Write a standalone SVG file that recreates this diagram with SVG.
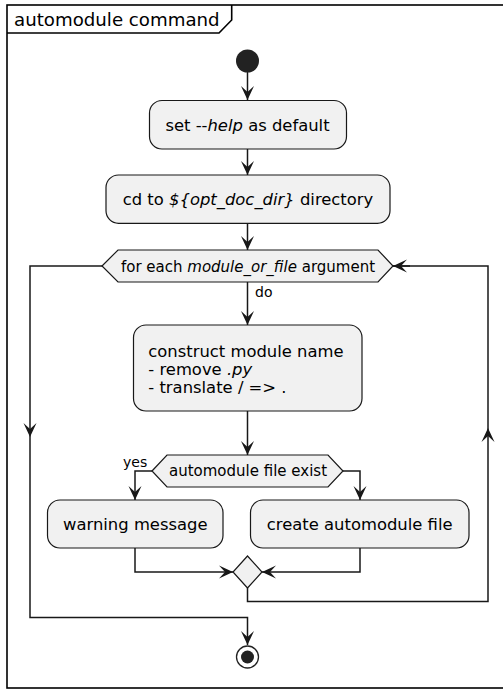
<svg xmlns="http://www.w3.org/2000/svg" width="503" height="689" viewBox="0 0 503 689">
  <style>
    text { font-family: "DejaVu Sans", "Noto Sans", sans-serif; fill: #000000; }
    .title { font-size: 18.2px; }
    .act { font-size: 16.4px; }
    .cond { font-size: 15px; }
    .lbl { font-size: 14px; }
    .box { fill: #F1F1F1; stroke: #181818; stroke-width: 1.2; }
    .conn { fill: none; stroke: #181818; stroke-width: 1.5; }
    .it { font-style: italic; }
  </style>
  <defs>
    <marker id="arrow" viewBox="-15 -7 16 14" refX="0" refY="0" markerWidth="16" markerHeight="14" markerUnits="userSpaceOnUse" orient="auto">
      <path d="M0,0 L-14,-6.5 L-8,0 L-14,6.5 Z" fill="#181818"/>
    </marker>
  </defs>

  <!-- frame -->
  <g id="frame">
    <rect x="7" y="5" width="500" height="683" fill="none" stroke="#000000" stroke-width="1.6"/>
    <path d="M7,33 H219 L231.7,20 V5" fill="none" stroke="#000000" stroke-width="1.6"/>
    <text class="title" x="14" y="26">automodule command</text>
  </g>

  <!-- connectors -->
  <g id="connectors">
    <path class="conn" d="M247.5,72 V100" marker-end="url(#arrow)"/>
    <path class="conn" d="M247.5,149 V175" marker-end="url(#arrow)"/>
    <path class="conn" d="M247.5,223 V250" marker-end="url(#arrow)"/>
    <path class="conn" d="M247.5,282 V325" marker-end="url(#arrow)"/>
    <text class="lbl" x="255" y="297">do</text>
    <path class="conn" d="M247.5,411 V455" marker-end="url(#arrow)"/>
    <path class="conn" d="M152,471 H135 V500" marker-end="url(#arrow)"/>
    <text class="lbl" x="123" y="467">yes</text>
    <path class="conn" d="M343,471 H360 V500" marker-end="url(#arrow)"/>
    <path class="conn" d="M135,548 V572 H233" marker-end="url(#arrow)"/>
    <path class="conn" d="M360,548 V572 H262" marker-end="url(#arrow)"/>
    <path class="conn" d="M247.5,588 V601.5 H488 V428" marker-end="url(#arrow)"/>
    <path class="conn" d="M488,428 V266 H393"/>
    <path class="conn" d="M410,266 H393" marker-end="url(#arrow)"/>
    <path class="conn" d="M102,266 H30 V437" marker-end="url(#arrow)"/>
    <path class="conn" d="M30,437 V617.5 H247.5 V645" marker-end="url(#arrow)"/>
  </g>

  <!-- start -->
  <g id="start">
    <circle cx="247.5" cy="61" r="11.5" fill="#222222"/>
  </g>

  <g id="set_help">
    <rect class="box" x="149.5" y="100.5" width="197" height="48.5" rx="12.5" ry="12.5"/>
    <text class="act" x="247.5" y="130.5" text-anchor="middle">set --<tspan class="it">help</tspan> as default</text>
  </g>

  <g id="cd_doc_dir">
    <rect class="box" x="106" y="175" width="284" height="48.3" rx="12.5" ry="12.5"/>
    <text class="act" x="248" y="205" text-anchor="middle">cd to <tspan class="it">${opt_doc_dir}</tspan> directory</text>
  </g>

  <g id="loop">
    <polygon class="box" points="102,266 118,250 378,250 393,266 378,282 118,282"/>
    <text class="cond" x="248" y="271.5" text-anchor="middle">for each <tspan class="it">module_or_file</tspan> argument</text>
  </g>

  <g id="construct">
    <rect class="box" x="133.5" y="325" width="228.5" height="86" rx="12.5" ry="12.5"/>
    <text class="act" x="148.3" y="356.5">construct module name</text>
    <text class="act" x="148.3" y="374.5">- remove <tspan class="it">.py</tspan></text>
    <text class="act" x="148.3" y="392.5">- translate / =&gt; .</text>
  </g>

  <g id="exists">
    <polygon class="box" points="152,471 167,455 328,455 343,471 328,487 167,487"/>
    <text class="cond" x="248" y="476" text-anchor="middle">automodule file exist</text>
  </g>

  <g id="warning">
    <rect class="box" x="47.5" y="500" width="175.5" height="48" rx="12.5" ry="12.5"/>
    <text class="act" x="135.3" y="530" text-anchor="middle">warning message</text>
  </g>

  <g id="create">
    <rect class="box" x="250.5" y="500" width="218.5" height="48" rx="12.5" ry="12.5"/>
    <text class="act" x="359.7" y="530" text-anchor="middle">create automodule file</text>
  </g>

  <g id="merge">
    <polygon class="box" points="247.5,556 262,572 247.5,588 233,572"/>
  </g>

  <g id="stop">
    <circle cx="247.5" cy="657" r="11" fill="#FFFFFF" stroke="#222222" stroke-width="1.3"/>
    <circle cx="247.5" cy="657" r="6.5" fill="#222222"/>
  </g>
</svg>
